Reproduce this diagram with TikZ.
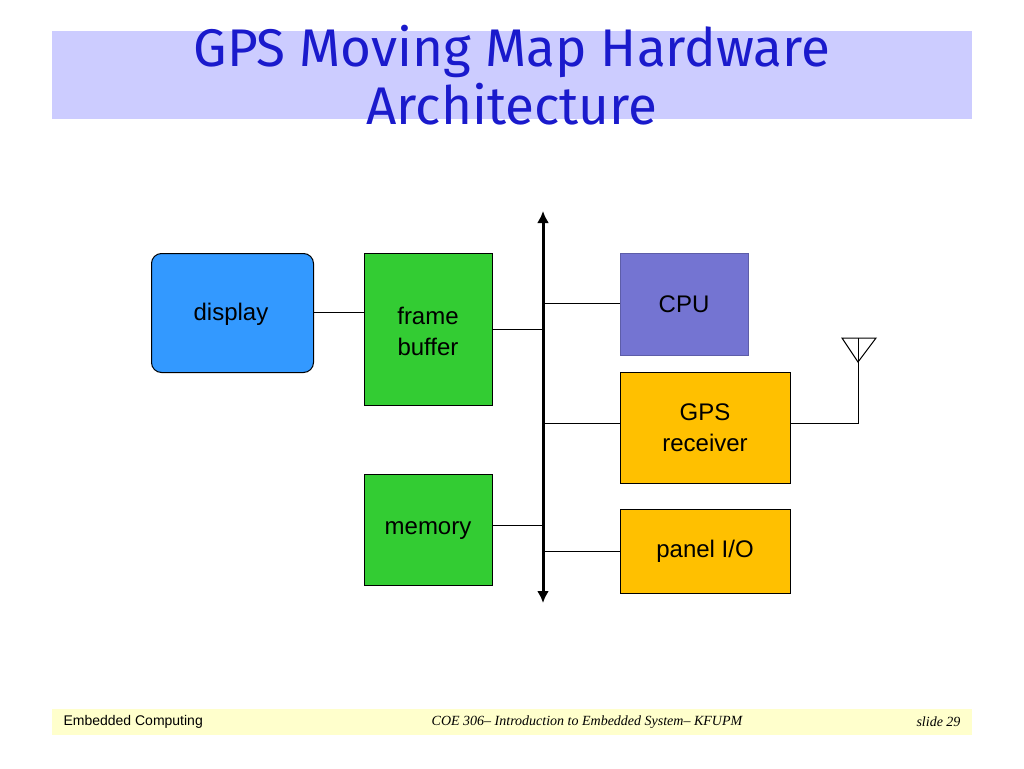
\documentclass[tikz,border=0pt]{standalone}
\usepackage{fontspec}
\setmainfont{Liberation Sans}
\newfontfamily\titlefont{Fira Sans}
\newfontfamily\footfont{Liberation Serif}
\usetikzlibrary{arrows.meta}
\definecolor{band}{HTML}{CCCCFF}
\definecolor{footband}{HTML}{FFFFCC}
\definecolor{titleblue}{HTML}{1A1ACC}
\definecolor{dispblue}{HTML}{3399FF}
\definecolor{boxgreen}{HTML}{33CC33}
\definecolor{cpublue}{HTML}{7474D2}
\definecolor{boxgold}{HTML}{FFC000}
\tikzset{
  unit/.style={draw,line width=1pt,anchor=north west,inner sep=0pt},
  wire/.style={draw,line width=1pt},
  lbl/.style={align=center,font=\fontsize{24}{31}\selectfont}
}
\begin{document}
\begin{tikzpicture}[x=1pt, y=-1pt]
      \useasboundingbox (0,0) rectangle (1024,768);
      \fill[band] (52,31) rectangle (972,119);
      \node[text=titleblue,font=\titlefont\fontsize{53}{58}\selectfont,align=center] (title) at (512,75) {GPS Moving Map Hardware\\Architecture};
      \fill[footband] (52,709) rectangle (972,735);
      \node[anchor=west,font=\fontsize{14}{16}\selectfont] (footl) at (60,722) {Embedded Computing};
      \node[font=\footfont\itshape\fontsize{14}{16}\selectfont] (footc) at (587,722) {COE 306– Introduction to Embedded System– KFUPM};
      \node[anchor=east,font=\footfont\itshape\fontsize{14}{16}\selectfont] (footr) at (964,722) {slide 29};
      % units
      \node[unit,fill=dispblue,rounded corners=10pt,minimum width=162pt,minimum height=119pt] (display) at (151,253) {};
      \node[lbl] (displaytxt) at (231,314) {display};
      \node[unit,fill=boxgreen,minimum width=128pt,minimum height=152pt] (fbuf) at (364,253) {};
      \node[lbl] (fbuftxt) at (428,331) {frame\\buffer};
      \node[unit,fill=boxgreen,minimum width=128pt,minimum height=111pt] (memory) at (364,474) {};
      \node[lbl] (memorytxt) at (428,531) {memory};
      \node[unit,fill=cpublue,draw=cpublue!80!black,minimum width=128pt,minimum height=102pt] (cpu) at (620,253) {};
      \node[lbl] (cputxt) at (684,304) {CPU};
      \node[unit,fill=boxgold,minimum width=170pt,minimum height=111pt] (gps) at (620,372) {};
      \node[lbl] (gpstxt) at (705,428) {GPS\\receiver};
      \node[unit,fill=boxgold,minimum width=170pt,minimum height=84pt] (panel) at (620,509) {};
      \node[lbl] (paneltxt) at (705,551) {panel I/O};
      % bus
      \coordinate (bustop) at (543,211);
      \coordinate (busbot) at (543,603);
      \draw[line width=3pt,{Latex[length=12pt,width=12pt]}-{Latex[length=12pt,width=12pt]}] (bustop) -- (busbot);
      \coordinate (tapfb) at (543,329);
      \coordinate (tapmem) at (543,525);
      \coordinate (tapcpu) at (543,303);
      \coordinate (tapgps) at (543,423);
      \coordinate (tappanel) at (543,551);
      \draw[wire] (display.east |- 0,312) -- (fbuf.west |- 0,312);
      \draw[wire] (fbuf.east |- tapfb) -- (tapfb);
      \draw[wire] (memory.east |- tapmem) -- (tapmem);
      \draw[wire] (tapcpu) -- (cpu.west |- tapcpu);
      \draw[wire] (tapgps) -- (gps.west |- tapgps);
      \draw[wire] (tappanel) -- (panel.west |- tappanel);
      % antenna
      \coordinate (antfoot) at (858,423);
      \coordinate (anttip) at (858,362);
      \draw[wire] (gps.east |- antfoot) -- (antfoot) -- (858,338);
      \draw[wire] (842,338) -- (876,338) -- (anttip) -- cycle;
   \end{tikzpicture}
\end{document}
